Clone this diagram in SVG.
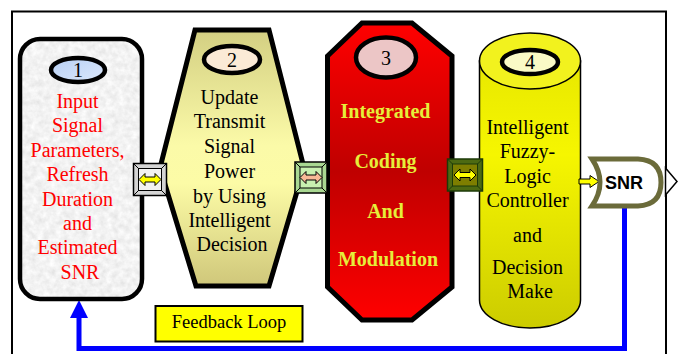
<svg xmlns="http://www.w3.org/2000/svg" width="678" height="354" viewBox="0 0 678 354">
  <defs>
    <style>
      .serif { font-family: "Liberation Serif", "Times New Roman", serif; text-anchor: middle; }
      .lbl1 { font-size: 20px; fill: #ff0000; }
      .lbl { font-size: 20px; fill: #000000; }
      .lbl3 { font-size: 20px; font-weight: bold; fill: #e6ee3a; }
      .num { font-size: 20px; fill: #000000; }
      .badge { stroke: #000000; stroke-width: 4.5; }
      .edge { stroke: #000000; stroke-width: 5; stroke-linejoin: miter; }
      .frame { fill: none; stroke: #000000; stroke-width: 2; }
      .loop { fill: none; stroke: #0000ff; stroke-width: 5; }
      .dbl { stroke: #000000; stroke-width: 1; stroke-linejoin: miter; }
    </style>
    <linearGradient id="gHex" x1="0" y1="0" x2="0" y2="1">
      <stop offset="0" stop-color="#d3cf82"/>
      <stop offset="0.45" stop-color="#fbfaa8"/>
      <stop offset="0.6" stop-color="#fcfba6"/>
      <stop offset="1" stop-color="#cfc77a"/>
    </linearGradient>
    <linearGradient id="gOct" x1="0" y1="0" x2="0" y2="1">
      <stop offset="0" stop-color="#ff0000"/>
      <stop offset="0.5" stop-color="#bf0000"/>
      <stop offset="1" stop-color="#ff0000"/>
    </linearGradient>
    <linearGradient id="gCyl" x1="0" y1="0" x2="0" y2="1">
      <stop offset="0" stop-color="#e8e800"/>
      <stop offset="0.35" stop-color="#f6f600"/>
      <stop offset="1" stop-color="#cccc00"/>
    </linearGradient>
    <linearGradient id="gBlue" x1="0" y1="0" x2="1" y2="1">
      <stop offset="0" stop-color="#b8d0f4"/>
      <stop offset="1" stop-color="#dce8fc"/>
    </linearGradient>
    <filter id="granite" x="0" y="0" width="100%" height="100%">
      <feTurbulence type="fractalNoise" baseFrequency="0.16" numOctaves="3" seed="7" result="n"/>
      <feColorMatrix in="n" type="matrix" values="0.3 0 0 0 0.74  0.3 0 0 0 0.74  0.3 0 0 0 0.74  0 0 0 0 1" result="g"/>
      <feComposite in="g" in2="SourceAlpha" operator="in"/>
    </filter>
    <clipPath id="clip1">
      <rect x="20" y="39" width="122" height="260" rx="20"/>
    </clipPath>
    <!-- double-headed arrow used inside the link boxes -->
    <path id="dblArrow" d="M-11,0 L-5,-6 L-5,-2.5 L5,-2.5 L5,-6 L11,0 L5,6 L5,2.5 L-5,2.5 L-5,6 Z"/>
  </defs>

  <rect width="678" height="354" fill="#ffffff"/>

  <!-- outer frame -->
  <path class="frame" d="M12,354 V11.5 H666 V354"/>

  <!-- feedback path -->
  <g id="connectors">
    <path class="loop" d="M624.5,206 V348.5 H79 V316"/>
    <polygon points="79,300 70,318 88,318" fill="#0000ff"/>
  </g>

  <!-- node 1: input parameters -->
  <g id="node1">
    <rect x="20" y="39" width="122" height="260" fill="#dddddd" clip-path="url(#clip1)" filter="url(#granite)"/>
    <rect x="20" y="39" width="122" height="260" rx="20" fill="none" stroke="#000000" stroke-width="4.5"/>
    <ellipse class="badge" cx="78" cy="70" rx="27" ry="12" fill="url(#gBlue)"/>
    <text class="serif num" x="78" y="77">1</text>
    <text class="serif lbl1" x="80">
      <tspan x="80" y="108">Input</tspan>
      <tspan x="80" y="132">Signal</tspan>
      <tspan x="80" y="157">Parameters,</tspan>
      <tspan x="80" y="181">Refresh</tspan>
      <tspan x="80" y="206">Duration</tspan>
      <tspan x="80" y="230">and</tspan>
      <tspan x="80" y="254">Estimated</tspan>
      <tspan x="80" y="279">SNR</tspan>
    </text>
  </g>

  <!-- node 2: update transmit power -->
  <g id="node2">
    <polygon class="edge" points="195,30 269,30 304,168 269,286 196,286 160,168" fill="url(#gHex)"/>
    <ellipse class="badge" cx="232" cy="59.5" rx="28" ry="13.5" fill="#fbead6"/>
    <text class="serif num" x="232" y="66.5">2</text>
    <text class="serif lbl">
      <tspan x="232" y="104">Update</tspan>
      <tspan x="232" y="128">Transmit</tspan>
      <tspan x="232" y="153">Signal</tspan>
      <tspan x="232" y="178">Power</tspan>
      <tspan x="232" y="203">by Using</tspan>
      <tspan x="232" y="227">Intelligent</tspan>
      <tspan x="232" y="251">Decision</tspan>
    </text>
  </g>

  <!-- node 3: coding and modulation -->
  <g id="node3">
    <polygon class="edge" points="362,23 412,23 452,56 452,287 412,320 362,320 327.5,287 327.5,56" fill="url(#gOct)"/>
    <ellipse class="badge" cx="386" cy="57.5" rx="30" ry="20" fill="#ecc6c6"/>
    <text class="serif num" x="386" y="64.5">3</text>
    <text class="serif lbl3">
      <tspan x="388" y="118">Integrated</tspan>
      <tspan x="388" y="168">Coding</tspan>
      <tspan x="388" y="218">And</tspan>
      <tspan x="388" y="266">Modulation</tspan>
    </text>
  </g>

  <!-- node 4: fuzzy-logic controller (cylinder) -->
  <g id="node4">
    <path d="M479.5,61 V300 A50.5,28 0 0 0 580.5,300 V61 Z" fill="url(#gCyl)" stroke="#000000" stroke-width="1.5"/>
    <ellipse cx="530" cy="61" rx="50.5" ry="28" fill="#f2f21e" stroke="#000000" stroke-width="1.5"/>
    <ellipse class="badge" cx="530" cy="62" rx="28" ry="12" fill="#fafac6" stroke-width="5"/>
    <text class="serif num" x="530" y="69">4</text>
    <text class="serif lbl">
      <tspan x="530" y="134">Intelligent</tspan>
      <tspan x="530" y="158">Fuzzy-</tspan>
      <tspan x="530" y="183">Logic</tspan>
      <tspan x="530" y="207">Controller</tspan>
      <tspan x="530" y="242">and</tspan>
      <tspan x="530" y="274">Decision</tspan>
      <tspan x="530" y="298">Make</tspan>
    </text>
  </g>

  <!-- link boxes between stages -->
  <g id="link12">
    <rect x="133.5" y="163.5" width="33" height="32" fill="#d4d4d4" stroke="#000000" stroke-width="1.5"/>
    <path d="M133.5,163.5 L138.5,168.5 M166.5,163.5 L161.5,168.5 M133.5,195.5 L138.5,190.5 M166.5,195.5 L161.5,190.5" stroke="#000000" stroke-width="1"/>
    <rect x="138.5" y="168.5" width="23" height="22" fill="#f2f2f2" stroke="#000000" stroke-width="1"/>
    <use href="#dblArrow" x="150" y="179.5" fill="#ffff00" class="dbl"/>
  </g>
  <g id="link23">
    <rect x="295" y="162" width="32" height="31" fill="#a9d892" stroke="#000000" stroke-width="1.5"/>
    <path d="M295,162 L300,167 M327,162 L322,167 M295,193 L300,188 M327,193 L322,188" stroke="#000000" stroke-width="1"/>
    <rect x="300" y="167" width="22" height="21" fill="#c8f0b0" stroke="#000000" stroke-width="1"/>
    <use href="#dblArrow" x="311" y="177.5" fill="#f8b896" class="dbl"/>
  </g>
  <g id="link34">
    <rect x="447.5" y="159" width="35" height="32" fill="#4d6a12" stroke="#1d3a08" stroke-width="1.5"/>
    <path d="M447.5,159 L452.5,164 M482.5,159 L477.5,164 M447.5,191 L452.5,186 M482.5,191 L477.5,186" stroke="#1d3a08" stroke-width="1"/>
    <rect x="452.5" y="164" width="25" height="22" fill="#7e7e00" stroke="#1d3a08" stroke-width="1"/>
    <use href="#dblArrow" x="465" y="175" fill="#ffff00" class="dbl"/>
  </g>

  <!-- SNR output gate -->
  <g id="snr">
    <path d="M579,179 H590 V175.5 L599,181.5 L590,187.5 V184 H579 Z" fill="#ffff00" stroke="#000000" stroke-width="1"/>
    <path d="M592,159 H638 Q661,160 661,182.5 Q661,205 638,206 H592 Q608,182.5 592,159 Z" fill="#ffffff" stroke="#6b6b3a" stroke-width="5"/>
    <text x="624" y="189" font-family="'Liberation Sans', Arial, sans-serif" font-size="18" font-weight="bold" text-anchor="middle" fill="#000000">SNR</text>
    <polygon points="665.5,168 677,181.5 665.5,195" fill="#ffffff" stroke="#000000" stroke-width="1.5"/>
  </g>

  <!-- caption box -->
  <g id="feedbackLabel">
    <rect x="155.5" y="306" width="147" height="35.5" fill="#ffff00" stroke="#000000" stroke-width="2"/>
    <text class="serif" x="229" y="328" font-size="18.5" fill="#000000">Feedback Loop</text>
  </g>
</svg>
